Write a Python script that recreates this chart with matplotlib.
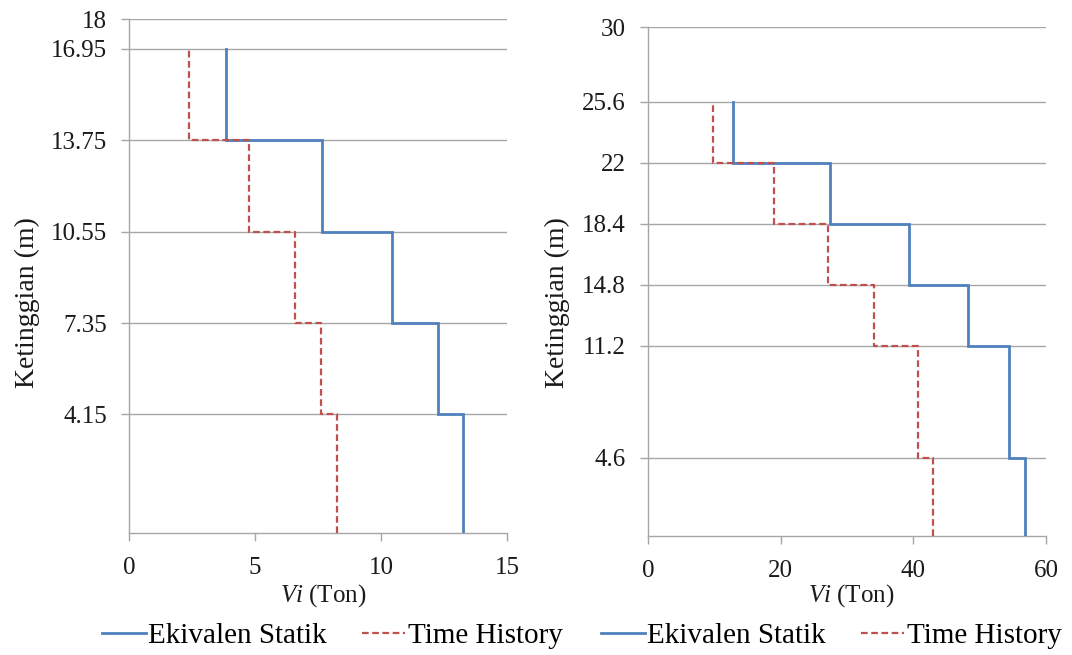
import matplotlib
matplotlib.use("Agg")
import matplotlib.pyplot as plt
from matplotlib.lines import Line2D

plt.rcParams['font.family'] = ['Liberation Serif', 'DejaVu Serif']
plt.rcParams['mathtext.fontset'] = 'custom'
plt.rcParams['mathtext.it'] = 'Liberation Serif:italic'
plt.rcParams['mathtext.rm'] = 'Liberation Serif'

# ---- data ----
left_levels = [0, 4.15, 7.35, 10.55, 13.75, 16.95]
left_yticks = [4.15, 7.35, 10.55, 13.75, 16.95, 18]
left_statik = [13.25, 12.27, 10.44, 7.65, 3.85]
left_history = [8.25, 7.63, 6.59, 4.76, 2.38]
left_xticks = [0, 5, 10, 15]

right_levels = [0, 4.6, 11.2, 14.8, 18.4, 22, 25.6]
right_yticks = [4.6, 11.2, 14.8, 18.4, 22, 25.6, 30]
right_statik = [56.9, 54.4, 48.2, 39.3, 27.5, 12.8]
right_history = [42.9, 40.7, 34.0, 27.2, 19.0, 9.8]
right_xticks = [0, 20, 40, 60]

labels = ["Ekivalen Statik", "Time History"]
BLUE = "#4F81BD"
RED = "#C0504D"
GRID = "#A6A6A6"
TXT = "#1a1a1a"
FS_TICK = 18
FS_XLAB = 18
FS_YLAB = 20
FS_LEG = 21

W, H = 1072, 655
fig = plt.figure(figsize=(W / 100, H / 100), dpi=100)


def step_xy(levels, vals):
    xs, ys = [], []
    for i, v in enumerate(vals):
        xs += [v, v]
        ys += [levels[i], levels[i + 1]]
    return xs, ys


def panel(rect, levels, statik, history, yticks, xticks, ymax):
    ax = fig.add_axes(rect)
    ax.set_xlim(xticks[0], xticks[-1])
    ax.set_ylim(0, ymax)
    ax.set_yticks(yticks)
    ax.set_yticklabels([f"{t:g}" for t in yticks])
    ax.set_xticks(xticks)
    ax.grid(axis='y', color=GRID, lw=1.0)
    ax.set_axisbelow(True)
    for s in ['top', 'right']:
        ax.spines[s].set_visible(False)
    for s in ['left', 'bottom']:
        ax.spines[s].set_color(GRID)
        ax.spines[s].set_linewidth(1.0)
    ax.tick_params(axis='both', colors=GRID, labelcolor=TXT,
                   labelsize=FS_TICK, length=6, width=1, direction='out')
    ax.tick_params(axis='x', pad=11)
    ax.tick_params(axis='y', pad=10)
    xs, ys = step_xy(levels, statik)
    ax.plot(xs, ys, color=BLUE, lw=2.0, solid_joinstyle='miter', zorder=3)
    xs, ys = step_xy(levels, history)
    ax.plot(xs, ys, color=RED, lw=1.6, ls=(0, (3, 1.6)), zorder=3)
    return ax


ax1 = panel([129 / W, 1 - 533 / H, (507 - 129) / W, (533 - 19) / H],
            left_levels, left_statik, left_history, left_yticks, left_xticks, 18)
ax2 = panel([648 / W, 1 - 536 / H, (1046 - 648) / W, (536 - 27) / H],
            right_levels, right_statik, right_history, right_yticks, right_xticks, 30)

# axis labels
for cx in [323, 851]:
    fig.text(cx / W, 1 - 596 / H, r"$Vi$ (Ton)", ha='center', va='center',
             fontsize=FS_XLAB, color=TXT)
fig.text(27 / W, 1 - 303 / H, "Ketinggian (m)", rotation=90, ha='center',
         va='center', fontsize=FS_YLAB, color=TXT)
fig.text(557 / W, 1 - 303 / H, "Ketinggian (m)", rotation=90, ha='center',
         va='center', fontsize=FS_YLAB, color=TXT)

# legends
handles = [Line2D([], [], color=BLUE, lw=2.0),
           Line2D([], [], color=RED, lw=1.6, ls=(0, (3, 1.6)))]
for x0 in [102, 601]:
    fig.legend(handles, labels, loc='center left',
               bbox_to_anchor=(x0 / W, 1 - 636 / H), ncol=2, frameon=False,
               fontsize=FS_LEG, handlelength=1.5, handletextpad=0.08,
               columnspacing=1.2, borderpad=0, borderaxespad=0)

fig.savefig("out.png", dpi=100, facecolor='white')
